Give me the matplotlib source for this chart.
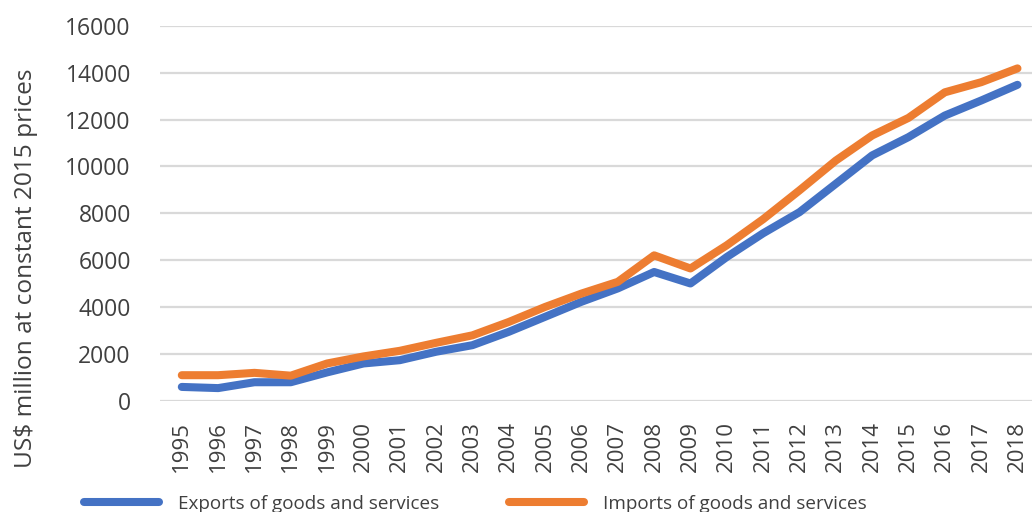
import matplotlib
matplotlib.use("Agg")
import matplotlib.pyplot as plt

plt.rcParams['font.family'] = ['Open Sans', 'DejaVu Sans']

# годы и ряды (млн долл. США в постоянных ценах 2015 г.)
years = list(range(1995, 2019))
exports = [600, 550, 800, 800, 1220, 1600, 1740, 2100, 2380, 2950, 3590, 4230,
           4800, 5500, 5010, 6140, 7150, 8050, 9260, 10470, 11250, 12170, 12810, 13480]
imports = [1100, 1100, 1200, 1080, 1600, 1900, 2140, 2480, 2800, 3370, 4010, 4580,
           5080, 6210, 5650, 6640, 7750, 8980, 10250, 11320, 12070, 13160, 13590, 14180]
yticks = list(range(0, 16001, 2000))

text_color = '#404040'

fig = plt.figure(figsize=(10.32, 5.12), dpi=100)
ax = fig.add_axes([160 / 1032, (512 - 401) / 512, 1 - 160 / 1032, (401 - 25.7) / 512])

ax.plot(years, exports, color='#4472C4', lw=5.8, solid_capstyle='round',
        solid_joinstyle='round', label='Exports of goods and services', zorder=3)
ax.plot(years, imports, color='#ED7D31', lw=5.8, solid_capstyle='round',
        solid_joinstyle='round', label='Imports of goods and services', zorder=3)

ax.set_xlim(1994.4, 2018.4)
ax.set_ylim(0, 16000)
ax.set_yticks(yticks)
ax.set_xticks(years)
ax.set_xticklabels([str(y) for y in years], rotation=90)
ax.tick_params(axis='y', length=0, pad=21, labelsize=16.5, labelcolor=text_color)
ax.tick_params(axis='x', length=0, pad=14.5, labelsize=16, labelcolor=text_color)
ax.grid(axis='y', color='#D9D9D9', lw=1.6)
ax.set_axisbelow(True)
for s in ax.spines.values():
    s.set_visible(False)

fig.text(26 / 1032, (512 - 268) / 512, 'US$ million at constant 2015 prices',
         rotation=90, ha='center', va='center', fontsize=17.6, color=text_color)

fig.legend(loc='center', bbox_to_anchor=(475.5 / 1032, 8 / 512), ncol=2, frameon=False,
           fontsize=13.6, handlelength=3.97, handletextpad=1.0, columnspacing=3.7,
           labelcolor=text_color)

fig.savefig('out.png', dpi=100)
